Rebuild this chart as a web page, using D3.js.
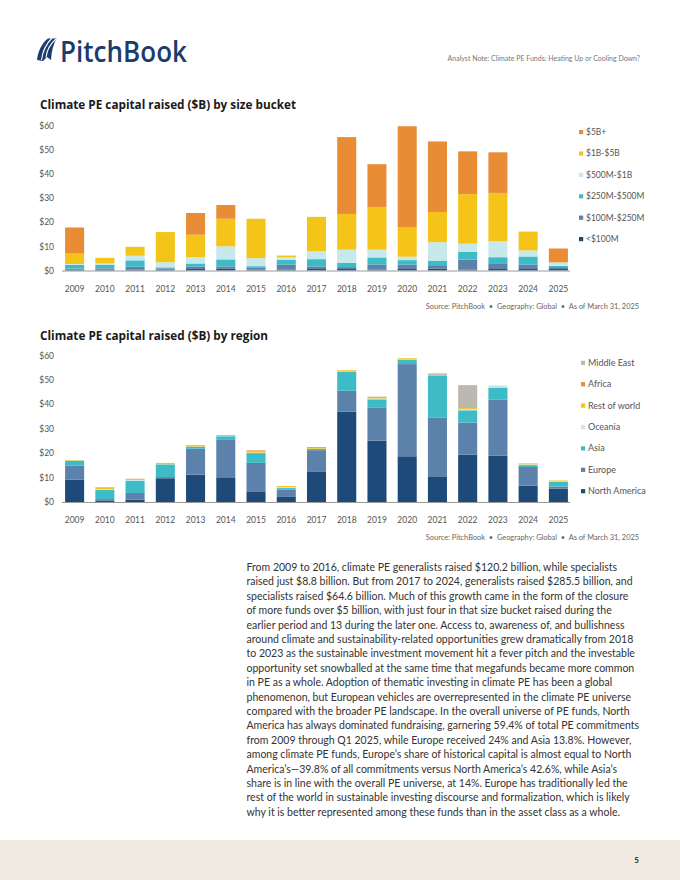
<!DOCTYPE html>
<html>
<head>
<meta charset="utf-8">
<script src="https://cdn.jsdelivr.net/npm/d3@7"></script>
<style>
  html, body { margin: 0; padding: 0; background: #fff; }
  svg { display: block; }
</style>
</head>
<body>
<svg id="page" width="680" height="880"></svg>
<script>
// ---------- DATA ----------
const years = ["2009","2010","2011","2012","2013","2014","2015","2016","2017","2018","2019","2020","2021","2022","2023","2024","2025"];
const yTicks = [0, 10, 20, 30, 40, 50, 60];

// Chart 1: size buckets (bottom to top)
const sizeKeys = ["<$100M", "$100M-$250M", "$250M-$500M", "$500M-$1B", "$1B-$5B", "$5B+"];
const under100M   = [0.4, 0.4, 0.4, 0.4, 0.6, 0.7, 0.4, 0.4, 0.6, 0.6, 0.4, 0.6, 0.8, 0.4, 0.6, 0.6, 0.6];
const m100to250   = [0.4, 0.5, 1.2, 0.5, 1.1, 1.0, 0.7, 2.1, 1.1, 0.8, 2.1, 1.9, 1.4, 4.1, 2.4, 1.9, 0.8];
const m250to500   = [1.5, 1.5, 2.6, 0.4, 1.2, 2.9, 0.7, 1.9, 3.0, 1.8, 2.9, 1.8, 1.9, 3.3, 2.5, 3.3, 0.55];
const m500to1B    = [0.4, 0.5, 1.9, 2.1, 2.6, 5.4, 3.3, 1.1, 3.3, 5.4, 3.2, 1.4, 7.6, 3.3, 6.6, 2.5, 1.4];
const b1to5       = [4.3, 2.35, 3.7, 12.5, 9.3, 11.4, 16.3, 0.7, 14.2, 14.8, 17.7, 12.1, 12.5, 20.5, 20.0, 7.8, 0];
const b5plus      = [10.8, 0, 0, 0, 9.0, 5.7, 0, 0, 0, 31.8, 17.7, 41.9, 29.2, 17.7, 16.8, 0, 5.75];
const sizeSeries  = [under100M, m100to250, m250to500, m500to1B, b1to5, b5plus];
const sizeColors  = ["#1d4a78", "#5c81aa", "#3dbcc7", "#c7e9eb", "#f4c418", "#e88d36"];

// Chart 2: regions (bottom to top)
const regionKeys = ["North America", "Europe", "Asia", "Oceania", "Rest of world", "Africa", "Middle East"];
const northAmerica = [9.1, 0.5, 1.0, 9.7, 11.2, 10.1, 4.1, 2.3, 12.3, 37.0, 25.1, 18.7, 10.5, 19.4, 19.0, 6.7, 5.5];
const europe       = [5.8, 0.7, 2.7, 0.5, 10.6, 15.3, 11.9, 2.7, 8.9, 8.5, 13.6, 37.7, 24.1, 13.1, 22.8, 7.6, 0.8];
const asia         = [2.0, 3.7, 4.9, 5.2, 0.8, 1.5, 4.0, 0.7, 0.5, 7.8, 3.3, 1.8, 17.2, 5.0, 5.0, 0.8, 1.9];
const oceania      = [0.1, 0.4, 0.4, 0.1, 0.1, 0.1, 0.2, 0.4, 0.1, 0.1, 0.3, 0.1, 0.1, 0.4, 0.9, 0.3, 0.2];
const restOfWorld  = [0.2, 0.5, 0.4, 0.5, 0.6, 0.4, 0.5, 0.4, 0.4, 0.5, 0.2, 0.5, 0.1, 0.5, 0, 0.4, 0.4];
const africa       = [0, 0.2, 0.1, 0, 0, 0, 0.4, 0, 0.3, 0, 0, 0, 0, 0, 0, 0, 0];
const middleEast   = [0, 0, 0, 0, 0, 0, 0, 0, 0, 0, 0.6, 0, 0.6, 9.4, 0, 0, 0];
const regionSeries = [northAmerica, europe, asia, oceania, restOfWorld, africa, middleEast];
const regionColors = ["#1d4a78", "#5c81aa", "#3dbcc7", "#c7e9eb", "#f4c418", "#e88d36", "#bdb8af"];

const bodyLines = [
  "From 2009 to 2016, climate PE generalists raised $120.2 billion, while specialists",
  "raised just $8.8 billion. But from 2017 to 2024, generalists raised $285.5 billion, and",
  "specialists raised $64.6 billion. Much of this growth came in the form of the closure",
  "of more funds over $5 billion, with just four in that size bucket raised during the",
  "earlier period and 13 during the later one. Access to, awareness of, and bullishness",
  "around climate and sustainability-related opportunities grew dramatically from 2018",
  "to 2023 as the sustainable investment movement hit a fever pitch and the investable",
  "opportunity set snowballed at the same time that megafunds became more common",
  "in PE as a whole. Adoption of thematic investing in climate PE has been a global",
  "phenomenon, but European vehicles are overrepresented in the climate PE universe",
  "compared with the broader PE landscape. In the overall universe of PE funds, North",
  "America has always dominated fundraising, garnering 59.4% of total PE commitments",
  "from 2009 through Q1 2025, while Europe received 24% and Asia 13.8%. However,",
  "among climate PE funds, Europe\u2019s share of historical capital is almost equal to North",
  "America\u2019s\u201439.8% of all commitments versus North America\u2019s 42.6%, while Asia\u2019s",
  "share is in line with the overall PE universe, at 14%. Europe has traditionally led the",
  "rest of the world in sustainable investing discourse and formalization, which is likely",
  "why it is better represented among these funds than in the asset class as a whole."
];

// ---------- PAGE ----------
const svg = d3.select("#page");
const FONT = "Lato, 'Open Sans', sans-serif";

// Footer band
svg.append("rect").attr("x", 0).attr("y", 840).attr("width", 680).attr("height", 40).attr("fill", "#f1ebe1");
svg.append("text").attr("x", 639).attr("y", 863).attr("text-anchor", "end")
  .attr("font-family", FONT).attr("font-weight", 700).attr("font-size", 8).attr("fill", "#222").text("5");

// Logo
const logo = svg.append("g");
logo.append("path").attr("fill", "#1b3c6e")
  .attr("d", "M37,60 C38,51 42,43 48,38.5 L56.5,38.5 C53.5,44 51.5,51 51,60 L47,57 L43,61 Z");
logo.append("path").attr("fill", "none").attr("stroke", "#fff").attr("stroke-width", 1.1)
  .attr("d", "M41.5,60 C42.5,52 46,44 52,38");
logo.append("path").attr("fill", "none").attr("stroke", "#fff").attr("stroke-width", 1.1)
  .attr("d", "M46,57.5 C46.8,50.5 50,44 56,39");
logo.append("text").attr("x", 60).attr("y", 61.5).attr("fill", "#1b3c6e")
  .attr("font-family", "'Open Sans', Lato, sans-serif").attr("font-weight", 600).attr("font-size", 29.5)
  .attr("textLength", 127).attr("lengthAdjust", "spacingAndGlyphs").text("PitchBook");

svg.append("text").attr("x", 640).attr("y", 61).attr("text-anchor", "end")
  .attr("font-family", FONT).attr("font-size", 7).attr("fill", "#777")
  .text("Analyst Note: Climate PE Funds: Heating Up or Cooling Down?");

// ---------- CHART FUNCTION ----------
function drawChart(opt) {
  const g = svg.append("g");
  g.append("text").attr("x", 40).attr("y", opt.titleY)
    .attr("font-family", "'Open Sans', sans-serif").attr("font-weight", 700).attr("font-size", 12.8)
    .attr("fill", "#1a1a1a").attr("textLength", opt.titleW).attr("lengthAdjust", "spacingAndGlyphs")
    .text(opt.title);

  const x = d3.scaleBand().domain(years).range([59.5, 573.5]).paddingInner(0.37).paddingOuter(0.185);
  const y = d3.scaleLinear().domain([0, 60]).range([opt.y0, opt.y60]);

  // y tick labels
  const yAxis = d3.axisLeft(y).tickValues(yTicks).tickFormat(d => "$" + d).tickSize(0).tickPadding(0);
  const ya = g.append("g").attr("transform", "translate(54,0)").call(yAxis);
  ya.select(".domain").remove();
  ya.selectAll("text").attr("font-family", FONT).attr("font-size", 8.5).attr("fill", "#555");

  // stacked bars
  const rows = years.map((yr, i) => {
    const r = { year: yr };
    opt.keys.forEach((k, j) => r[k] = opt.series[j][i]);
    return r;
  });
  const stacked = d3.stack().keys(opt.keys)(rows);
  g.selectAll("g.layer").data(stacked).join("g").attr("class", "layer")
    .attr("fill", (d, j) => opt.colors[j])
    .selectAll("rect").data(d => d).join("rect")
    .attr("x", d => x(d.data.year))
    .attr("width", x.bandwidth())
    .attr("y", d => y(d[1]))
    .attr("height", d => Math.max(0, y(d[0]) - y(d[1])));

  // x axis
  const xAxis = d3.axisBottom(x).tickSize(0).tickPadding(0);
  const xa = g.append("g").attr("transform", `translate(0,${opt.y0})`).call(xAxis);
  xa.select(".domain").attr("d", "M62,0.5H570").attr("stroke", "#9a9a9a").attr("stroke-width", 1);
  xa.selectAll("text").attr("font-family", FONT).attr("font-size", 8.5).attr("fill", "#555")
    .attr("y", 0).attr("dy", opt.labelDy);

  // legend (top = last key)
  const lg = g.append("g");
  const order = opt.keys.map((k, j) => j).reverse();
  order.forEach((j, idx) => {
    const cy = opt.legTop + idx * opt.legStep;
    lg.append("rect").attr("x", opt.legX).attr("y", cy - 2).attr("width", 4.2).attr("height", 4.2).attr("fill", opt.colors[j]);
    lg.append("text").attr("x", opt.legX + 7).attr("y", cy).attr("dy", "0.35em")
      .attr("font-family", FONT).attr("font-size", opt.legFont).attr("fill", "#555").text(opt.keys[j]);
  });

  // source
  g.append("text").attr("x", 639).attr("y", opt.srcY).attr("text-anchor", "end")
    .attr("font-family", FONT).attr("font-size", 7.4).attr("fill", "#666")
    .attr("xml:space", "preserve")
    .text("Source: PitchBook  \u2022  Geography: Global  \u2022  As of March 31, 2025");
}

drawChart({
  title: "Climate PE capital raised ($B) by size bucket", titleY: 109, titleW: 256,
  y0: 270.5, y60: 125.5, keys: sizeKeys, series: sizeSeries, colors: sizeColors,
  labelDy: 21, legX: 579, legTop: 132, legStep: 21.4, legFont: 8.5, srcY: 309
});

drawChart({
  title: "Climate PE capital raised ($B) by region", titleY: 340, titleW: 228,
  y0: 502, y60: 355.3, keys: regionKeys, series: regionSeries, colors: regionColors,
  labelDy: 21, legX: 581, legTop: 362.7, legStep: 21.4, legFont: 9, srcY: 539.5
});

// ---------- BODY TEXT ----------
const body = svg.append("g").attr("font-family", FONT).attr("fill", "#333");
const probe = body.append("text").attr("font-size", 10).text(bodyLines[11]);
const w10 = probe.node().getComputedTextLength();
probe.remove();
const fs = 10 * 393 / w10;
bodyLines.forEach((ln, i) => {
  body.append("text").attr("x", 246.5).attr("y", 567.3 + i * 14.4).attr("dy", "0.35em")
    .attr("font-size", fs).text(ln);
});
</script>
</body>
</html>
